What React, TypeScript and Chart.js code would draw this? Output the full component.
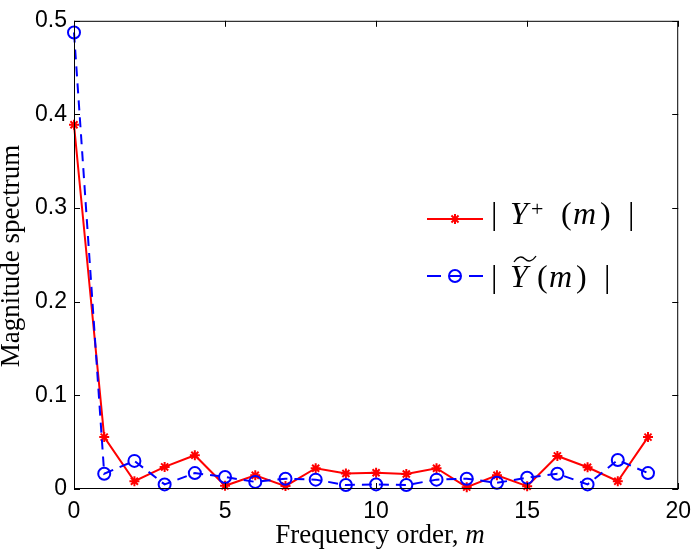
import React, { useEffect, useRef } from "react";
import { Chart, registerables } from "chart.js";

Chart.register(...registerables);

const mOrders = [0, 1, 2, 3, 4, 5, 6, 7, 8, 9, 10, 11, 12, 13, 14, 15, 16, 17, 18, 19];
const yPlusMag = [0.389, 0.0554, 0.0083, 0.0236, 0.036, 0.0034, 0.0146, 0.0031, 0.0222, 0.0166, 0.0174, 0.016, 0.0222, 0.002, 0.0146, 0.003, 0.0353, 0.0232, 0.0083, 0.0554];
const yTildeMag = [0.4875, 0.0163, 0.030, 0.0049, 0.017, 0.0128, 0.0076, 0.011, 0.010, 0.0042, 0.0049, 0.0042, 0.010, 0.011, 0.0066, 0.0121, 0.0163, 0.0049, 0.0309, 0.017];
const xTickValues = [0, 5, 10, 15, 20];
const yTickValues = [0, 0.1, 0.2, 0.3, 0.4, 0.5];
const xTitle = "Frequency order, ";
const xTitleVar = "m";
const yTitle = "Magnitude spectrum";

const SANS = "'Liberation Sans', Arial, sans-serif";
const SERIF = "'Liberation Serif', 'Times New Roman', serif";

const framePlugin = {
  id: "frame",
  afterDraw(chart: any) {
    const ctx = chart.ctx;
    const { left, right, top, bottom } = chart.chartArea;
    const xs = chart.scales.x;
    const ys = chart.scales.y;
    ctx.save();
    ctx.strokeStyle = "#000";
    ctx.lineWidth = 1;
    ctx.strokeRect(left + 0.5, top + 0.5, right - left - 1, bottom - top - 1);
    const tl = 6;
    ctx.beginPath();
    yTickValues.forEach((v) => {
      const y = Math.round(ys.getPixelForValue(v)) + 0.5;
      ctx.moveTo(left, y);
      ctx.lineTo(left + tl, y);
      ctx.moveTo(right, y);
      ctx.lineTo(right - tl, y);
    });
    xTickValues.forEach((v) => {
      const x = Math.round(xs.getPixelForValue(v)) + 0.5;
      ctx.moveTo(x, bottom);
      ctx.lineTo(x, bottom - tl);
      ctx.moveTo(x, top);
      ctx.lineTo(x, top + tl);
    });
    ctx.stroke();

    // axis titles
    ctx.fillStyle = "#000";
    ctx.textBaseline = "alphabetic";
    ctx.textAlign = "left";
    ctx.font = `27px ${SERIF}`;
    const w1 = ctx.measureText(xTitle).width;
    ctx.font = `italic 27px ${SERIF}`;
    const w2 = ctx.measureText(xTitleVar).width;
    const cx = 380;
    const sx = cx - (w1 + w2) / 2;
    ctx.font = `27px ${SERIF}`;
    ctx.fillText(xTitle, sx, 543);
    ctx.font = `italic 27px ${SERIF}`;
    ctx.fillText(xTitleVar, sx + w1, 543);

    ctx.save();
    ctx.translate(19, 256);
    ctx.rotate(-Math.PI / 2);
    ctx.font = `27px ${SERIF}`;
    ctx.textAlign = "center";
    ctx.fillText(yTitle, 0, 0);
    ctx.restore();

    // legend
    const drawStar = (x: number, y: number, r: number) => {
      ctx.beginPath();
      for (let i = 0; i < 4; i++) {
        const a = (i * Math.PI) / 4;
        ctx.moveTo(x - r * Math.cos(a), y - r * Math.sin(a));
        ctx.lineTo(x + r * Math.cos(a), y + r * Math.sin(a));
      }
      ctx.stroke();
    };
    ctx.strokeStyle = "#ff0000";
    ctx.lineWidth = 2;
    ctx.beginPath();
    ctx.moveTo(427, 219);
    ctx.lineTo(483, 219);
    ctx.stroke();
    drawStar(455, 219, 5);
    ctx.strokeStyle = "#0000ff";
    ctx.setLineDash([14, 9, 10, 9]);
    ctx.beginPath();
    ctx.moveTo(427, 276);
    ctx.lineTo(483, 276);
    ctx.stroke();
    ctx.setLineDash([]);
    ctx.beginPath();
    ctx.arc(455, 276, 6, 0, Math.PI * 2);
    ctx.stroke();

    ctx.fillStyle = "#000";
    ctx.textAlign = "left";
    const fs = 32;
    const b1 = 224;
    ctx.font = `${fs}px ${SERIF}`;
    ctx.fillText("|", 491, b1);
    ctx.font = `italic ${fs}px ${SERIF}`;
    ctx.fillText("Y", 510, b1);
    ctx.font = `22px ${SERIF}`;
    ctx.fillText("+", 531, b1 - 8);
    ctx.font = `${fs}px ${SERIF}`;
    ctx.fillText("(", 561, b1);
    ctx.font = `italic ${fs}px ${SERIF}`;
    ctx.fillText("m", 573, b1);
    ctx.font = `${fs}px ${SERIF}`;
    ctx.fillText(")", 600, b1);
    ctx.fillText("|", 628, b1);

    const b2 = 287;
    ctx.font = `${fs}px ${SERIF}`;
    ctx.fillText("|", 491, b2);
    ctx.font = `italic ${fs}px ${SERIF}`;
    ctx.fillText("Y", 510, b2);
    ctx.font = `${fs}px ${SERIF}`;
    ctx.fillText("(", 537, b2);
    ctx.font = `italic ${fs}px ${SERIF}`;
    ctx.fillText("m", 549, b2);
    ctx.font = `${fs}px ${SERIF}`;
    ctx.fillText(")", 576, b2);
    ctx.fillText("|", 604, b2);
    // wide tilde over Y
    ctx.strokeStyle = "#000";
    ctx.lineWidth = 1.3;
    ctx.beginPath();
    ctx.moveTo(514, 262);
    ctx.bezierCurveTo(518, 256, 522, 256, 525, 259);
    ctx.bezierCurveTo(528, 262, 532, 262, 536, 256);
    ctx.stroke();
    ctx.restore();
  },
};

export default function App() {
  const ref = useRef<HTMLCanvasElement | null>(null);
  useEffect(() => {
    if (!ref.current) return;
    const chart = new Chart(ref.current, {
      type: "line",
      data: {
        datasets: [
          {
            label: "|Y+(m)|",
            data: mOrders.map((m, i) => ({ x: m, y: yPlusMag[i] })),
            borderColor: "#ff0000",
            backgroundColor: "#ff0000",
            borderWidth: 2,
            pointStyle: "star",
            pointRadius: 5,
            pointBorderWidth: 2,
            pointBorderColor: "#ff0000",
            tension: 0,
            clip: false,
            order: 1,
          },
          {
            label: "|Ỹ(m)|",
            data: mOrders.map((m, i) => ({ x: m, y: yTildeMag[i] })),
            borderColor: "#0000ff",
            backgroundColor: "rgba(0,0,0,0)",
            borderWidth: 2,
            borderDash: [10, 7],
            pointStyle: "circle",
            pointRadius: 6,
            pointBorderWidth: 2,
            pointBorderColor: "#0000ff",
            pointBackgroundColor: "rgba(0,0,0,0)",
            tension: 0,
            clip: false,
            order: 0,
          },
        ],
      },
      options: {
        animation: false,
        responsive: false,
        maintainAspectRatio: false,
        layout: { padding: { left: 0, right: 15, top: 9, bottom: 0 } },
        plugins: { legend: { display: false }, tooltip: { enabled: false } },
        scales: {
          x: {
            type: "linear",
            min: 0,
            max: 20,
            grid: { display: false, drawTicks: false },
            border: { display: false },
            afterBuildTicks: (s: any) => {
              s.ticks = xTickValues.map((v) => ({ value: v }));
            },
            afterFit: (s: any) => {
              s.height = 63;
            },
            ticks: {
              autoSkip: false,
              maxRotation: 0,
              padding: 9,
              color: "#000",
              font: { family: SANS, size: 23 },
              callback: (v: any) => String(v),
            },
          },
          y: {
            min: 0,
            max: 0.5,
            grid: { display: false, drawTicks: false },
            border: { display: false },
            afterBuildTicks: (s: any) => {
              s.ticks = yTickValues.map((v) => ({ value: v }));
            },
            afterFit: (s: any) => {
              s.width = 74;
            },
            ticks: {
              autoSkip: false,
              padding: 7,
              color: "#000",
              font: { family: SANS, size: 23 },
              callback: (v: any) => (v === 0 ? "0" : String(Number(v).toFixed(1))),
            },
          },
        },
      },
      plugins: [framePlugin],
    } as any);
    return () => chart.destroy();
  }, []);
  return (
    <div style={{ position: "absolute", left: 0, top: 0, width: 700, height: 552, background: "#fff" }}>
      <canvas ref={ref} width={700} height={552} style={{ display: "block" }} />
    </div>
  );
}
